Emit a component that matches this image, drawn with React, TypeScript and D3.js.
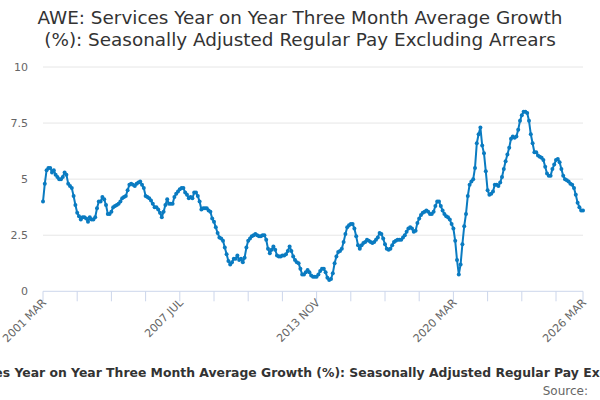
import { useEffect, useRef } from 'react'
import * as d3 from 'd3'

// monthly series, 2001 MAR .. 2026 MAR
const startYear = 2001
const startMonth = 2 // March, 0-based

const growth = [
  4.0, 4.8, 5.4, 5.5, 5.5, 5.3, 5.4, 5.2, 5.1, 5.0,
  5.0, 5.1, 5.3, 5.2, 4.8, 4.7, 4.6, 4.25, 3.85, 3.5,
  3.35, 3.2, 3.3, 3.3, 3.25, 3.1, 3.3, 3.2, 3.2, 3.3,
  3.7, 4.0, 4.0, 4.2, 4.1, 3.85, 3.45, 3.45, 3.55, 3.75,
  3.8, 3.85, 3.9, 4.0, 4.15, 4.2, 4.25, 4.5, 4.75, 4.8,
  4.75, 4.7, 4.8, 4.85, 4.9, 4.75, 4.6, 4.25, 4.2, 4.15,
  4.05, 3.9, 3.75, 3.75, 3.65, 3.5, 3.3, 3.55, 3.85, 4.1,
  3.9, 3.9, 3.9, 4.2, 4.35, 4.45, 4.55, 4.6, 4.6, 4.4,
  4.3, 4.15, 4.2, 4.15, 4.4, 4.4, 4.25, 4.0,
  3.65, 3.7, 3.7, 3.7, 3.6, 3.55, 3.25, 3.1, 2.85, 2.6,
  2.4, 2.35, 2.25, 1.95, 1.65, 1.35, 1.2, 1.3, 1.45, 1.45,
  1.6, 1.4, 1.45, 1.3, 1.5, 1.95, 2.25, 2.35, 2.45, 2.5,
  2.55, 2.5, 2.45, 2.45, 2.5, 2.5, 2.3, 1.9, 1.7, 1.85,
  2.0, 1.85, 1.6, 1.55, 1.55, 1.6, 1.6, 1.65, 1.8, 2.0,
  1.8, 1.55, 1.4, 1.3, 1.25, 1.0, 0.75, 0.75, 0.85, 0.95,
  0.85, 0.7, 0.65, 0.65, 0.65, 0.75, 0.9, 1.0, 1.0, 0.85,
  0.6, 0.5, 0.55, 0.8, 1.25, 1.55, 1.75, 1.8, 1.9, 2.2,
  2.55, 2.85, 2.95, 3.0, 3.0, 2.8, 2.45, 2.05, 1.9, 2.05,
  2.15, 2.2, 2.3, 2.25, 2.2, 2.15, 2.2, 2.3, 2.4, 2.6,
  2.55, 2.35, 2.1, 1.9, 1.85,
  1.9, 2.05, 2.2, 2.25, 2.3, 2.3, 2.3,
  2.4, 2.5, 2.65, 2.8, 2.85, 2.8, 2.65, 2.7, 3.05, 3.25,
  3.4, 3.5, 3.55, 3.6, 3.55, 3.45, 3.45, 3.55, 3.8, 4.0,
  4.0, 3.8, 3.6, 3.45, 3.35, 3.3, 3.2, 3.0, 2.8, 2.25,
  1.4, 0.75, 1.2, 2.1, 2.9, 3.45, 4.25, 4.75, 4.9, 5.0,
  5.5, 6.6, 7.0, 7.3, 6.5, 6.15, 5.35, 4.5, 4.3, 4.35,
  4.45, 4.75, 4.75, 4.7, 4.85, 5.1, 5.45, 5.8, 6.1, 6.4,
  6.8, 6.9, 6.85, 6.9, 7.2, 7.6, 7.85, 8.0, 8.0, 7.95,
  7.6, 7.0, 6.6, 6.2, 6.2, 6.05, 6.0, 5.95, 5.85, 5.55,
  5.25, 5.15, 5.15, 5.45, 5.65, 5.85, 5.9, 5.75, 5.45, 5.15,
  5.0, 4.95, 4.9, 4.8, 4.75, 4.6, 4.3, 3.95, 3.75, 3.6,
  3.6,
]

const monthNames = ['JAN', 'FEB', 'MAR', 'APR', 'MAY', 'JUN', 'JUL', 'AUG', 'SEP', 'OCT', 'NOV', 'DEC']
const yTicks = [0, 2.5, 5, 7.5, 10]
const yTickLabels = ['0', '2.5', '5', '7.5', '10']
const tickStep = 19 // months between x ticks
const labelEvery = 4

const titleLines = [
  'AWE: Services Year on Year Three Month Average Growth',
  '(%): Seasonally Adjusted Regular Pay Excluding Arrears',
]
const seriesName =
  'AWE: Services Year on Year Three Month Average Growth (%): Seasonally Adjusted Regular Pay Excluding Arrears'

const monthLabel = (i: number) => {
  const m = startMonth + i
  return `${startYear + Math.floor(m / 12)} ${monthNames[m % 12]}`
}

export default function App() {
  const ref = useRef<SVGSVGElement>(null)

  useEffect(() => {
    document.body.style.margin = '0'
    if (!ref.current) return
    const svg = d3.select(ref.current)
    svg.selectAll('*').remove()

    const width = 600
    const height = 400
    const font = 'DejaVu Sans, sans-serif'
    const color = '#0a7bc1'
    svg.attr('width', width).attr('height', height)

    const last = growth.length - 1
    const x = d3.scaleLinear().domain([0, last]).range([43, 583])
    const y = d3.scaleLinear().domain([0, 10]).range([291.3, 67])

    // title
    svg.append('g')
      .selectAll('text')
      .data(titleLines)
      .join('text')
      .attr('x', width / 2)
      .attr('y', (d, i) => 24 + i * 22)
      .attr('text-anchor', 'middle')
      .style('font-family', font)
      .style('font-size', '18.4px')
      .style('fill', '#333')
      .text(d => d)

    // grid + y labels
    const grid = svg.append('g')
    yTicks.forEach((t, i) => {
      if (t > 0) {
        grid.append('line')
          .attr('x1', 43).attr('x2', 583)
          .attr('y1', y(t)).attr('y2', y(t))
          .attr('stroke', '#e6e6e6')
          .attr('stroke-width', 1)
      }
      grid.append('text')
        .attr('x', 28)
        .attr('y', y(t) + 4)
        .attr('text-anchor', 'end')
        .style('font-family', font)
        .style('font-size', '11px')
        .style('fill', '#666')
        .text(yTickLabels[i])
    })

    // x axis
    const xTicks = d3.range(0, last, tickStep).concat([last])
    const axis = svg.append('g')
    axis.append('line')
      .attr('x1', 43).attr('x2', 583)
      .attr('y1', y(0)).attr('y2', y(0))
      .attr('stroke', '#ccd6eb')
    xTicks.forEach((t, i) => {
      axis.append('line')
        .attr('x1', x(t)).attr('x2', x(t))
        .attr('y1', y(0)).attr('y2', y(0) + 10)
        .attr('stroke', '#ccd6eb')
      if (i % labelEvery === 0 || t === last) {
        axis.append('text')
          .attr('transform', `translate(${x(t) + 4},${y(0) + 12}) rotate(-45)`)
          .attr('text-anchor', 'end')
          .style('font-family', font)
          .style('font-size', '11px')
          .style('fill', '#666')
          .text(monthLabel(t))
      }
    })

    // series
    const line = d3.line<number>()
      .x((d, i) => x(i))
      .y(d => y(d))
    svg.append('path')
      .datum(growth)
      .attr('d', line)
      .attr('fill', 'none')
      .attr('stroke', color)
      .attr('stroke-width', 2)
      .attr('stroke-linejoin', 'round')
    svg.append('g')
      .selectAll('circle')
      .data(growth)
      .join('circle')
      .attr('cx', (d, i) => x(i))
      .attr('cy', d => y(d))
      .attr('r', 2)
      .attr('fill', color)

    // legend (wider than the chart, so it runs off both edges) + credits
    svg.append('text')
      .attr('x', 309)
      .attr('y', 377)
      .attr('text-anchor', 'middle')
      .style('font-family', font)
      .style('font-size', '12.4px')
      .style('font-weight', 'bold')
      .style('fill', '#333')
      .text(seriesName)
    svg.append('text')
      .attr('x', 588)
      .attr('y', 395)
      .attr('text-anchor', 'end')
      .style('font-family', font)
      .style('font-size', '12px')
      .style('fill', '#666')
      .text('Source:')
  }, [])

  return <svg ref={ref} style={{ display: 'block' }}></svg>
}
